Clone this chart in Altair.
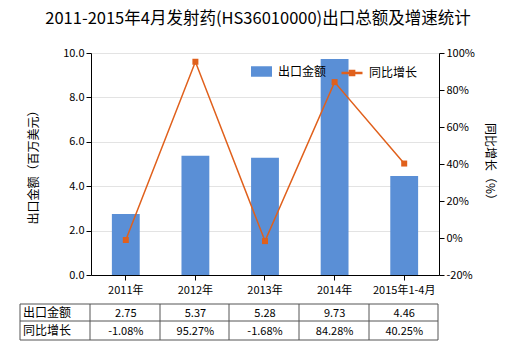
import altair as alt
import pandas as pd

years = ["2011年", "2012年", "2013年", "2014年", "2015年1-4月"]
export = [2.75, 5.37, 5.28, 9.73, 4.46]
growth = [-1.08, 95.27, -1.68, 84.28, 40.25]
export_labels = ["2.75", "5.37", "5.28", "9.73", "4.46"]
growth_labels = ["-1.08%", "95.27%", "-1.68%", "84.28%", "40.25%"]
row_names = ["出口金额", "同比增长"]

BLUE = "#5a8fd6"
ORANGE = "#e0601c"
FONT = "Noto Sans CJK SC"

df = pd.DataFrame({
    "year": years, "export": export, "growth": growth,
    "elab": export_labels, "glab": growth_labels,
    "s1": row_names[0], "s2": row_names[1],
})

xenc = alt.X("year:N", sort=years, title=None,
             scale=alt.Scale(paddingInner=0.6, paddingOuter=0.3),
             axis=alt.Axis(labelAngle=0, labelFontSize=11, labelColor="#000",
                           domainColor="#000", tickColor="#000", tickSize=5,
                           labelPadding=4))

bars = alt.Chart(df).mark_bar().encode(
    x=xenc,
    y=alt.Y("export:Q", title="出口金额（百万美元）",
            scale=alt.Scale(domain=[0, 10]),
            axis=alt.Axis(format=".1f", values=[0, 2, 4, 6, 8, 10], grid=True,
                          gridColor="#e3e3e3", domainColor="#000", tickColor="#000",
                          tickSize=5, labelFontSize=11, labelColor="#000",
                          titleFontSize=12, titleFontWeight="normal", titleColor="#000",
                          titlePadding=22)),
    fill=alt.Fill("s1:N", scale=alt.Scale(domain=[row_names[0]], range=[BLUE]),
                  legend=alt.Legend(orient="none", legendX=160, legendY=8, title=None,
                                    symbolType="M-1,-0.5H1V0.5H-1Z", symbolSize=441,
                                    symbolStrokeWidth=0, labelFontSize=12, labelColor="#000",
                                    labelOffset=6)),
)

yr = alt.Y("growth:Q", title="同比增长（%）",
           scale=alt.Scale(domain=[-20, 100]),
           axis=alt.Axis(orient="right", values=[-20, 0, 20, 40, 60, 80, 100],
                         labelExpr="datum.value + '%'", grid=False,
                         domainColor="#000", tickColor="#000", tickSize=5,
                         labelFontSize=11, labelColor="#000",
                         titleFontSize=12, titleFontWeight="normal", titleColor="#000",
                         titlePadding=8))

line = alt.Chart(df).mark_line(strokeWidth=1.5).encode(
    x=alt.X("year:N", sort=years),
    y=yr,
    stroke=alt.Stroke("s2:N", scale=alt.Scale(domain=[row_names[1]], range=[ORANGE]),
                      legend=alt.Legend(orient="none", legendX=249, legendY=8, title=None,
                                        symbolType="M-1,0H1M-0.2,-0.2H0.2V0.2H-0.2Z",
                                        symbolSize=441, symbolFillColor=ORANGE,
                                        symbolStrokeWidth=2.5, labelFontSize=12,
                                        labelColor="#000", labelOffset=5)),
)

pts = alt.Chart(df).mark_square(size=36, color=ORANGE, opacity=1).encode(
    x=alt.X("year:N", sort=years),
    y=alt.Y("growth:Q", scale=alt.Scale(domain=[-20, 100]), axis=None),
)

# table
t1 = alt.Chart(df).mark_text(fontSize=11, color="#000", font=FONT).encode(
    x=alt.X("year:N", sort=years), y=alt.value(261), text="elab:N")
t2 = alt.Chart(df).mark_text(fontSize=11, color="#000", font=FONT).encode(
    x=alt.X("year:N", sort=years), y=alt.value(279), text="glab:N")
lab = pd.DataFrame({"name": row_names, "yy": [260, 278]})
tl = alt.Chart(lab).mark_text(fontSize=12, color="#000", align="left", font=FONT).encode(
    x=alt.value(-68), y=alt.Y("yy:Q", scale=None), text="name:N")

rules = []
for xv in [-71, -1, 69, 138, 208, 278, 347]:
    rules.append(alt.Chart(df.head(1)).mark_rule(color="#555", strokeWidth=1).encode(
        x=alt.value(xv), y=alt.value(251), y2=alt.value(287)))
for yv in [251, 268, 287]:
    rules.append(alt.Chart(df.head(1)).mark_rule(color="#555", strokeWidth=1).encode(
        x=alt.value(-71), x2=alt.value(347), y=alt.value(yv)))

main = alt.layer(bars, line, pts).resolve_scale(y="independent")

chart = alt.layer(main, t1, t2, tl, *rules).resolve_scale(y="independent").properties(
    width=348, height=222,
    autosize=alt.AutoSizeParams(type="none"),
    padding={"left": 91, "top": 53, "right": 81, "bottom": 75},
    title=alt.TitleParams("2011-2015年4月发射药(HS36010000)出口总额及增速统计",
                          fontSize=16.5, fontWeight="normal", color="#000",
                          anchor="middle", offset=20, dx=-7),
).configure(font=FONT).configure_view(stroke=None)

chart.save("out.html", embed_options={"renderer": "svg", "actions": False})
